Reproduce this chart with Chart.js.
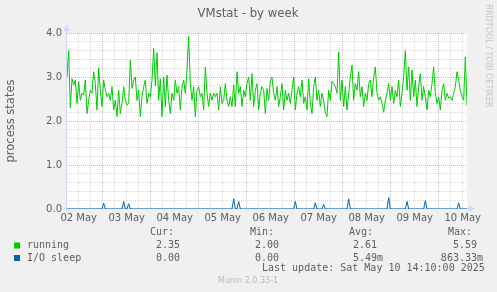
<!DOCTYPE html>
<html>
<head>
<title>VMstat - by week</title>
<script src="https://cdn.jsdelivr.net/npm/chart.js@4"></script>
<style>
  html, body { margin: 0; padding: 0; background: #f0f0f0; }
  canvas { display: block; }
</style>
</head>
<body>
<canvas id="chart" width="497" height="292"></canvas>
<script>
// time axis in hours since 02 May 00:00, one sample every 50 minutes
const startHour = 6 + 10 / 60;
const stepHours = 50 / 60;
const dayLabels = ['02 May', '03 May', '04 May', '05 May', '06 May', '07 May', '08 May', '09 May', '10 May'];

const running = [
  3.0, 3.6, 2.3, 2.96, 2.82, 2.93, 2.4, 2.9, 2.47, 2.63,
  2.59, 2.93, 2.17, 2.47, 2.7, 2.63, 3.12, 2.85, 2.25, 3.2,
  2.7, 2.33, 2.93, 2.7, 2.55, 2.63, 2.47, 2.78, 2.25, 2.47,
  2.1, 2.7, 2.17, 2.4, 2.78, 2.47, 2.36, 2.4, 3.39, 2.74,
  2.93, 3.0, 2.47, 2.7, 2.1, 2.55, 2.78, 2.93, 2.4, 2.63,
  2.55, 2.93, 3.65, 2.8, 3.55, 2.47, 2.96, 2.1, 3.0, 2.33,
  3.04, 2.47, 2.17, 2.63, 2.47, 2.93, 2.63, 2.78, 2.25, 2.78,
  2.93, 2.63, 3.16, 3.92, 2.85, 2.47, 2.78, 2.1, 2.7, 2.78,
  2.55, 2.63, 2.25, 3.23, 2.63, 2.33, 2.63, 2.47, 2.63, 2.55,
  2.63, 2.25, 2.78, 2.4, 2.47, 2.85, 2.47, 2.33, 2.55, 2.33,
  2.82, 2.33, 3.12, 2.63, 2.78, 2.33, 2.7, 2.55, 2.85, 3.0,
  2.47, 3.08, 2.33, 2.7, 2.85, 2.25, 2.63, 2.78, 2.7, 2.17,
  2.74, 2.47, 2.93, 3.0, 2.63, 2.47, 2.78, 2.33, 2.55, 2.85,
  2.25, 2.7, 2.47, 2.63, 2.4, 2.7, 3.0, 2.25, 2.63, 2.78,
  2.55, 2.93, 2.4, 2.55, 2.25, 2.96, 2.4, 2.17, 2.78, 3.0,
  2.47, 2.7, 2.33, 2.63, 2.47, 2.17, 2.1, 2.7, 2.47, 2.9,
  2.85, 2.78, 2.63, 3.57, 2.47, 2.93, 2.33, 2.78, 2.25, 2.63,
  3.0, 3.27, 2.47, 2.85, 2.7, 3.12, 2.55, 2.78, 2.33, 2.63,
  2.47, 2.85, 2.93, 2.55, 3.0, 3.23, 2.63, 2.47, 2.55, 2.4,
  2.2, 2.47, 2.63, 2.85, 2.47, 2.78, 2.4, 2.7, 2.55, 2.93,
  2.33, 2.63, 3.0, 3.6, 2.7, 3.23, 2.47, 3.16, 2.55, 2.93,
  2.33, 2.78, 3.08, 2.47, 2.78, 2.55, 2.25, 2.7, 2.55, 2.85,
  3.23, 2.63, 2.4, 2.55, 2.25, 2.7, 2.85, 2.47, 2.63, 2.52,
  2.55, 2.47, 2.63, 2.78, 3.12, 2.93, 2.7, 2.55, 2.47, 3.45,
  2.35
];

const ioSleep = [
  0, 0, 0, 0, 0, 0, 0, 0, 0, 0, 0, 0, 0, 0, 0, 0, 0, 0, 0, 0,
  0, 0, 0.13, 0, 0, 0, 0, 0, 0, 0, 0, 0, 0, 0, 0.17, 0, 0, 0.12, 0, 0,
  0, 0, 0, 0, 0, 0, 0, 0, 0, 0, 0, 0, 0, 0, 0, 0, 0, 0, 0, 0,
  0, 0, 0, 0, 0, 0, 0, 0, 0, 0, 0, 0, 0, 0, 0, 0, 0, 0, 0, 0,
  0, 0, 0, 0, 0, 0, 0, 0, 0, 0, 0, 0, 0, 0, 0, 0, 0, 0, 0, 0,
  0.23, 0, 0, 0.17, 0, 0, 0, 0, 0, 0, 0, 0, 0, 0, 0, 0, 0, 0, 0, 0,
  0, 0, 0, 0, 0, 0, 0, 0, 0, 0, 0, 0, 0, 0, 0, 0, 0, 0.17, 0, 0,
  0, 0, 0, 0, 0, 0, 0, 0, 0, 0.14, 0, 0, 0, 0, 0.1, 0, 0, 0, 0, 0,
  0, 0, 0, 0, 0, 0, 0, 0, 0, 0.23, 0, 0, 0, 0, 0, 0, 0, 0, 0, 0,
  0, 0, 0, 0, 0, 0, 0, 0, 0, 0, 0, 0, 0, 0.26, 0, 0, 0, 0, 0, 0,
  0, 0, 0, 0, 0.17, 0, 0, 0, 0, 0, 0, 0, 0, 0, 0, 0.19, 0, 0, 0, 0,
  0, 0, 0, 0, 0, 0, 0, 0, 0, 0, 0, 0, 0, 0, 0, 0.14, 0, 0, 0, 0,
  0
];

const seriesNames = ['running', 'I/O sleep'];
const seriesColors = ['#00cc00', '#0066b3'];
const curValues = ['2.35 ', '0.00 '];
const minValues = ['2.00 ', '0.00 '];
const avgValues = ['2.61 ', '5.49m'];
const maxValues = ['5.59 ', '863.33m'];
const lastUpdate = 'Last update: Sat May 10 14:10:00 2025';

const fontColor = '#5e5e5e';
const axisColor = '#cfd6f8';
const gridColor = 'rgba(143, 143, 143, 0.33)';
const mgridColor = 'rgba(223, 0, 0, 0.33)';

const toPoints = (arr) => arr.map((v, i) => ({ x: startHour + i * stepHours, y: v }));
const isWhole = (v) => Math.abs(v - Math.round(v)) < 1e-9;

const muninPlugin = {
    id: 'munin',
    beforeDraw(chart) {
        const { ctx, chartArea: a } = chart;
        ctx.save();
        ctx.fillStyle = '#f0f0f0';
        ctx.fillRect(0, 0, chart.width, chart.height);
        ctx.fillStyle = '#ffffff';
        ctx.fillRect(a.left, a.top, a.right - a.left, a.bottom - a.top);
        ctx.restore();
    },
    beforeDatasetsDraw(chart) {
        const { ctx, chartArea: a } = chart;
        const x0 = a.left - 0.5, y0 = a.bottom - 0.5;
        ctx.save();
        ctx.strokeStyle = axisColor;
        ctx.fillStyle = axisColor;
        ctx.lineWidth = 1;
        ctx.beginPath();
        ctx.moveTo(x0, y0 + 3);
        ctx.lineTo(x0, a.top - 3);
        ctx.moveTo(x0 - 3, y0);
        ctx.lineTo(a.right + 2, y0);
        ctx.stroke();
        // arrows
        ctx.beginPath();
        ctx.moveTo(x0, a.top - 8);
        ctx.lineTo(x0 - 3, a.top - 2);
        ctx.lineTo(x0 + 3, a.top - 2);
        ctx.closePath();
        ctx.fill();
        ctx.beginPath();
        ctx.moveTo(a.right + 8, y0);
        ctx.lineTo(a.right + 2, y0 - 3);
        ctx.lineTo(a.right + 2, y0 + 3);
        ctx.closePath();
        ctx.fill();
        ctx.restore();
    },
    afterDraw(chart) {
        const { ctx, chartArea: a } = chart;
        ctx.save();
        ctx.textBaseline = 'middle';

        // title
        ctx.fillStyle = fontColor;
        ctx.font = '11.7px "DejaVu Sans"';
        ctx.textAlign = 'center';
        ctx.fillText('VMstat - by week', 248, 14);

        // vertical axis label
        ctx.save();
        ctx.translate(11, (a.top + a.bottom) / 2);
        ctx.rotate(-Math.PI / 2);
        ctx.font = '11.5px "DejaVu Sans"';
        ctx.fillText('process states', 0, 0);
        ctx.restore();

        // rrdtool watermark
        ctx.save();
        ctx.translate(488, 56);
        ctx.rotate(Math.PI / 2);
        ctx.fillStyle = '#c4c4c4';
        ctx.font = '8px "DejaVu Sans"';
        ctx.fillText('RRDTOOL / TOBI OETIKER', 0, 0);
        ctx.restore();

        ctx.fillStyle = '#bbbbbb';
        ctx.font = '8px "DejaVu Sans"';
        ctx.fillText('Munin 2.0.33-1', 248, 281);

        // legend
        ctx.textAlign = 'left';
        ctx.font = '10px "DejaVu Sans Mono"';
        ctx.fillStyle = fontColor;
        const headers = [['Cur:', 150], ['Min:', 250], ['Avg:', 349], ['Max:', 448]];
        headers.forEach(([t, x]) => ctx.fillText(t, x, 232.5));
        const cols = [[curValues, 186], [minValues, 285], [avgValues, 383], [maxValues, 483]];
        const rowY = [245.5, 258];
        seriesNames.forEach((name, r) => {
            ctx.fillStyle = seriesColors[r];
            ctx.fillRect(14, rowY[r] - 3, 6, 6);
            ctx.fillStyle = fontColor;
            ctx.fillText(name, 27, rowY[r]);
            cols.forEach(([vals, right]) => {
                const w = ctx.measureText(vals[r]).width;
                ctx.fillText(vals[r], right - w, rowY[r]);
            });
        });
        ctx.fillText(lastUpdate, 262, 268.5);
        ctx.restore();
    }
};

new Chart(document.getElementById('chart'), {
    type: 'line',
    data: {
        datasets: [
            {
                label: seriesNames[0],
                data: toPoints(running),
                borderColor: seriesColors[0],
                borderWidth: 1,
                pointRadius: 0,
                tension: 0,
            },
            {
                label: seriesNames[1],
                data: toPoints(ioSleep),
                borderColor: seriesColors[1],
                borderWidth: 1,
                pointRadius: 0,
                tension: 0,
            },
        ],
    },
    options: {
        responsive: false,
        animation: false,
        devicePixelRatio: 1,
        layout: { padding: { top: 33, right: 30, left: 0, bottom: 0 } },
        plugins: {
            legend: { display: false },
            title: { display: false },
            tooltip: { enabled: false },
        },
        scales: {
            x: {
                type: 'linear',
                min: startHour,
                max: startHour + 200,
                afterBuildTicks: (s) => {
                    const t = [];
                    for (let h = 6; h <= s.max; h += 6) {
                        if (h >= s.min) t.push({ value: h });
                    }
                    s.ticks = t;
                },
                afterFit: (s) => { s.height = 83; },
                border: { display: false, dash: [1, 1] },
                grid: {
                    drawTicks: false,
                    color: (c) => (c.tick && c.tick.value % 24 === 0 ? mgridColor : gridColor),
                },
                ticks: {
                    autoSkip: false,
                    maxRotation: 0,
                    padding: 3,
                    color: fontColor,
                    font: { family: 'DejaVu Sans', size: 10 },
                    callback: (v) => (v % 24 === 12 ? dayLabels[(v - 12) / 24] : ''),
                },
            },
            y: {
                min: 0,
                max: 4,
                afterBuildTicks: (s) => {
                    const t = [];
                    for (let k = 0; k <= 20; k++) t.push({ value: k / 5 });
                    s.ticks = t;
                },
                afterFit: (s) => { s.width = 67; },
                border: { display: false, dash: [1, 1] },
                grid: {
                    drawTicks: false,
                    color: (c) => {
                        if (!c.tick || c.tick.value === 0) return 'rgba(0,0,0,0)';
                        return isWhole(c.tick.value) ? mgridColor : gridColor;
                    },
                },
                ticks: {
                    autoSkip: false,
                    padding: 5,
                    color: fontColor,
                    font: { family: 'DejaVu Sans', size: 10 },
                    callback: (v) => (isWhole(v) ? v.toFixed(1) : ''),
                },
            },
        },
    },
    plugins: [muninPlugin],
});
</script>
</body>
</html>
